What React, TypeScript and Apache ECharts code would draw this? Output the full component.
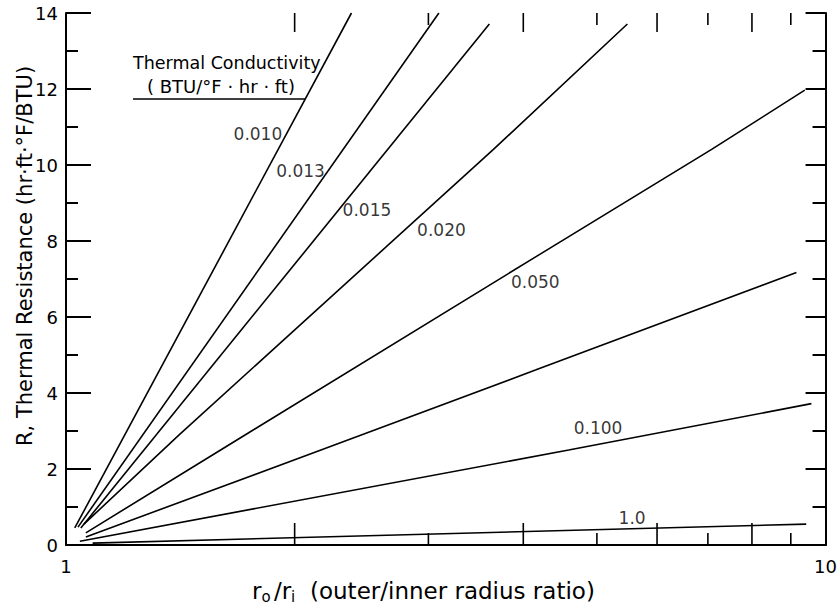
import React, { useEffect, useRef } from "react";
import * as echarts from "echarts";

// Radius ratio r_o/r_i (x, log scale) vs thermal resistance R (y)
const line010 = [[1.027, 0.45], [2.376, 14.0]];
const line013 = [[1.037, 0.47], [3.097, 14.0]];
const line015 = [[1.046, 0.45], [3.609, 13.71]];
const line020 = [[1.056, 0.55], [1.409, 2.9], [3.654, 10.41], [5.484, 13.71]];
const line030 = [[1.062, 0.32], [1.598, 2.5], [4.158, 7.59], [7.08, 10.41], [9.39, 11.97]];
const line050 = [[1.062, 0.21], [2.166, 2.5], [4.158, 4.61], [9.155, 7.17]];
const line100 = [[1.043, 0.1], [4.59, 2.5], [9.58, 3.72]];
const line1_0 = [[1.084, 0.05], [9.43, 0.55]];

const curves = [line010, line013, line015, line020, line030, line050, line100, line1_0];

// curve labels (anchor = left-middle of text, in data coordinates)
const labelTexts = ["0.010", "0.013", "0.015", "0.020", "0.050", "0.100", "1.0"];
const labelX = [1.662, 1.891, 2.313, 2.899, 3.853, 4.66, 5.34];
const labelY = [10.81, 9.83, 8.81, 8.3, 6.93, 3.08, 0.71];

// x-axis intermediate ticks
const xTicks = [2, 3, 4, 5, 6, 7, 8, 9];

const yTitle = "R, Thermal Resistance (hr·ft·°F/BTU)";
const legendTitle1 = "Thermal Conductivity";
const legendTitle2 = "( BTU/°F · hr · ft)";

const FONT = "DejaVu Sans";

export default function App() {
  const ref = useRef<HTMLDivElement>(null);
  useEffect(() => {
    if (!ref.current) return;
    const chart = echarts.init(ref.current, null, { renderer: "svg" });
    const lineSeries = curves.map((c) => ({
      type: "line",
      data: c,
      showSymbol: false,
      symbol: "none",
      lineStyle: { color: "#000", width: 1.6 },
      xAxisIndex: 0,
      yAxisIndex: 0,
      silent: true,
      z: 3,
    }));
    const option: any = {
      animation: false,
      backgroundColor: "#fff",
      grid: { left: 66, right: 8, top: 13, bottom: 62 },
      xAxis: [
        {
          type: "log",
          logBase: 10,
          min: 1,
          max: 10,
          position: "bottom",
          axisLine: { show: true, lineStyle: { color: "#000", width: 2 } },
          axisTick: { show: false },
          splitLine: { show: false },
          minorTick: { show: false },
          axisLabel: {
            color: "#000",
            fontSize: 18,
            fontFamily: FONT,
            margin: 12,
            formatter: (v: number) => String(Math.round(v)),
          },
        },
        {
          type: "log",
          logBase: 10,
          min: 1,
          max: 10,
          position: "top",
          axisLine: { show: true, lineStyle: { color: "#000", width: 2 } },
          axisTick: { show: false },
          splitLine: { show: false },
          axisLabel: { show: false },
        },
      ],
      yAxis: [
        {
          type: "value",
          min: 0,
          max: 14,
          interval: 2,
          position: "left",
          axisLine: { show: true, lineStyle: { color: "#000", width: 2 } },
          axisTick: { show: true, inside: true, length: 25, lineStyle: { color: "#000", width: 2 } },
          minorTick: { show: true, splitNumber: 2, length: 12, lineStyle: { color: "#000", width: 2 } },
          splitLine: { show: false },
          axisLabel: { color: "#000", fontSize: 18, fontFamily: FONT, margin: 8 },
        },
        {
          type: "value",
          min: 0,
          max: 14,
          interval: 2,
          position: "right",
          axisLine: { show: true, lineStyle: { color: "#000", width: 2 } },
          axisTick: { show: true, inside: true, length: 20, lineStyle: { color: "#000", width: 2 } },
          minorTick: { show: true, splitNumber: 2, length: 13, lineStyle: { color: "#000", width: 2 } },
          splitLine: { show: false },
          axisLabel: { show: false },
        },
      ],
      series: [
        ...lineSeries,
        {
          type: "scatter",
          xAxisIndex: 0,
          yAxisIndex: 0,
          symbolSize: 0,
          silent: true,
          data: labelX.map((x, i) => [x, labelY[i], labelTexts[i]]),
          label: {
            show: true,
            position: [0, 0],
            align: "left",
            verticalAlign: "middle",
            color: "#000",
            fontSize: 17,
            fontFamily: FONT,
            formatter: (p: any) => p.data[2],
          },
          z: 4,
        },
        {
          type: "custom",
          xAxisIndex: 0,
          yAxisIndex: 0,
          silent: true,
          clip: false,
          data: xTicks.map((v) => [v, 0]),
          encode: { x: 0, y: 1 },
          renderItem: (params: any, api: any) => {
            const v = api.value(0);
            const b = api.coord([v, 0]);
            const t = api.coord([v, 14]);
            const major = v % 2 === 0;
            const lb = major ? 22 : 12;
            const lt = major ? 19 : 12;
            const style = { stroke: "#000", lineWidth: 1.6 };
            return {
              type: "group",
              children: [
                { type: "line", shape: { x1: b[0], y1: b[1], x2: b[0], y2: b[1] - lb }, style },
                { type: "line", shape: { x1: t[0], y1: t[1], x2: t[0], y2: t[1] + lt }, style },
              ],
            };
          },
          z: 2,
        },
      ],
      graphic: [
        {
          type: "text",
          left: 133,
          top: 54,
          style: { text: legendTitle1, fontSize: 17.5, fontFamily: FONT, fill: "#000" },
        },
        {
          type: "text",
          left: 147,
          top: 77,
          style: { text: legendTitle2, fontSize: 18, fontFamily: FONT, fill: "#000" },
        },
        {
          type: "line",
          shape: { x1: 133, y1: 99, x2: 305, y2: 99 },
          style: { stroke: "#000", lineWidth: 1.6 },
        },
        {
          type: "text",
          x: 25,
          y: 256,
          rotation: Math.PI / 2,
          style: {
            text: yTitle,
            fontSize: 21,
            fontFamily: FONT,
            fill: "#000",
            align: "center",
            verticalAlign: "middle",
          },
        },
        {
          type: "group",
          x: 252,
          y: 591,
          children: [
            { type: "text", x: 0, y: 0, style: { text: "r", fontSize: 23, fontFamily: FONT, fill: "#000", verticalAlign: "middle" } },
            { type: "text", x: 9.5, y: 6, style: { text: "o", fontSize: 15, fontFamily: FONT, fill: "#000", verticalAlign: "middle" } },
            { type: "text", x: 22, y: 0, style: { text: "/r", fontSize: 23, fontFamily: FONT, fill: "#000", verticalAlign: "middle" } },
            { type: "text", x: 39, y: 6, style: { text: "i", fontSize: 15, fontFamily: FONT, fill: "#000", verticalAlign: "middle" } },
            { type: "text", x: 58, y: 0, style: { text: "(outer/inner radius ratio)", fontSize: 23, fontFamily: FONT, fill: "#000", verticalAlign: "middle" } },
          ],
        },
      ],
    };
    chart.setOption(option);
    return () => chart.dispose();
  }, []);
  return (
    <div
      ref={ref}
      style={{ position: "fixed", left: 0, top: 0, width: 840, height: 607, background: "#fff" }}
    />
  );
}
